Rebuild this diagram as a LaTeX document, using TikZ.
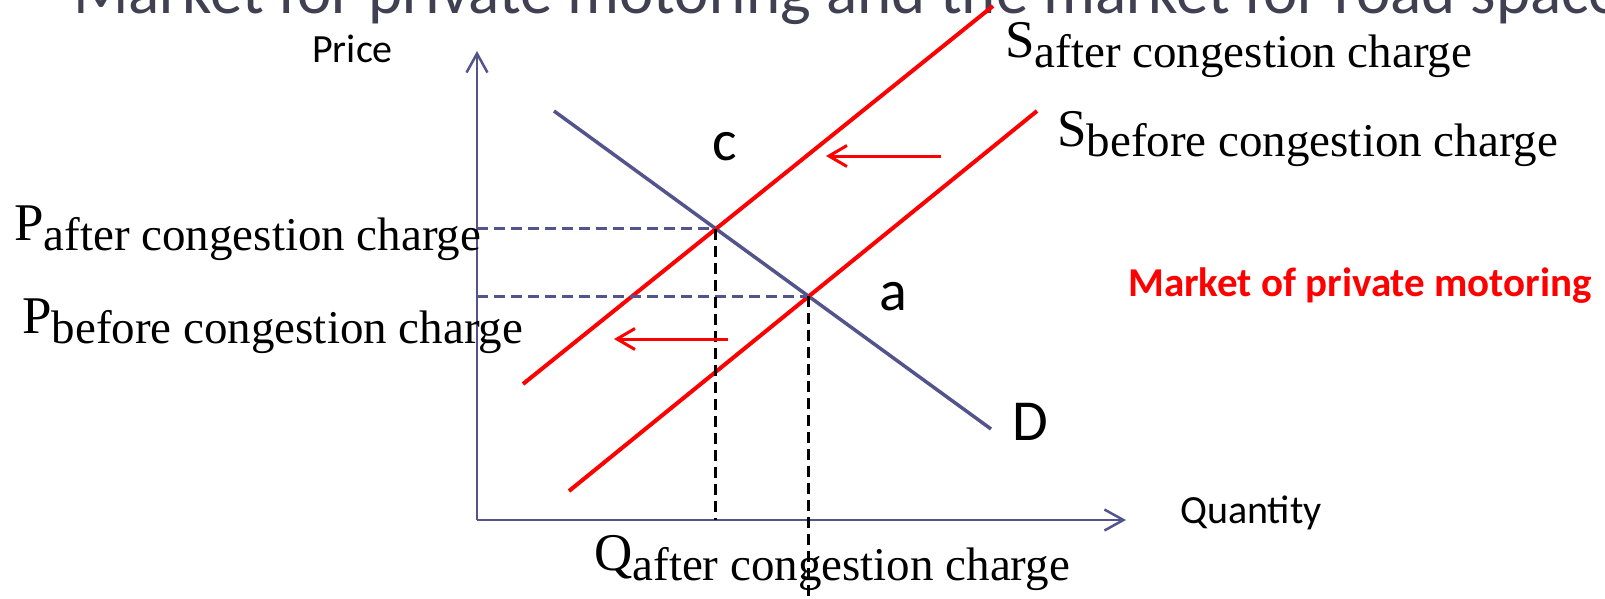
\documentclass[tikz,border=0pt]{standalone}
\usepackage{fontspec}
\setmainfont{Liberation Serif}
\newfontfamily\calib{Carlito}
\usetikzlibrary{arrows.meta,intersections}
\definecolor{slate}{RGB}{84,84,140}
\definecolor{titlegray}{RGB}{64,64,82}
\definecolor{pred}{RGB}{255,0,0}
\newcommand\mysub[2]{{\fontsize{53}{60}\selectfont #1}\lower10pt\hbox{#2}}
\begin{document}
\begin{tikzpicture}[x=1pt,y=-1pt,
  axisline/.style={draw=slate,line width=2.5pt,-{Straight Barb[length=19pt,width=21pt]}},
  demandline/.style={draw=slate,line width=3.5pt},
  supplyline/.style={draw=pred,line width=4pt},
  shiftarrow/.style={draw=pred,line width=3pt,-{Straight Barb[length=18pt,width=21pt]}},
  pdash/.style={draw=slate,line width=3pt,dash pattern=on 11pt off 6pt},
  qdash/.style={draw=black,line width=3pt,dash pattern=on 11pt off 6pt},
  sublabel/.style={anchor=base west,inner sep=0pt,font=\fontsize{47}{56}\selectfont},
  sanslabel/.style={anchor=base west,inner sep=0pt,font=\calib\fontsize{40}{48}\selectfont},
  ptlabel/.style={anchor=base west,inner sep=0pt,font=\calib\fontsize{58}{68}\selectfont}]
\useasboundingbox (0,0) rectangle (1605,598);
\clip (0,0) rectangle (1605,598);
% title (cut off at top and right)
\node[anchor=base west,inner sep=0pt,text=titlegray,font=\calib\fontsize{65}{78}\selectfont] (title) at (73,13) {Market for private motoring and the market for road space};
% axes
\coordinate (O) at (477,520);
\coordinate (ytip) at (477,51);
\coordinate (xtip) at (1126,520);
\coordinate (bottom) at (0,598);
\draw[axisline] (O) -- (ytip);
\draw[axisline] (O) -- (xtip);
% curves
\coordinate (dA) at (554,111);
\coordinate (dB) at (991,429);
\coordinate (saA) at (523,384);
\coordinate (saB) at (993,6);
\coordinate (sbA) at (569,491);
\coordinate (sbB) at (1037,111);
\draw[demandline,name path=Dl] (dA) -- (dB);
\draw[supplyline,name path=Sa] (saA) -- (saB);
\draw[supplyline,name path=Sb] (sbA) -- (sbB);
\path[name intersections={of=Dl and Sa,by=c}];
\path[name intersections={of=Dl and Sb,by=a}];
% dashed guides
\draw[pdash] (c -| O) -- (c);
\draw[pdash] (a -| O) -- (a);
\draw[qdash] (c) -- (c |- O);
\draw[qdash] (a) -- (a |- bottom);
% shift arrows
\coordinate (ar1s) at (941,156);
\coordinate (ar1e) at (826,156);
\coordinate (ar2s) at (728,339);
\coordinate (ar2e) at (614,339);
\draw[shiftarrow] (ar1s) -- (ar1e);
\draw[shiftarrow] (ar2s) -- (ar2e);
% labels
\node[sanslabel] (price) at (312,62) {Price};
\node[sanslabel] (qty) at (1180,523) {Quantity};
\node[sanslabel,text=pred,font=\calib\bfseries\fontsize{41}{49}\selectfont] (mkt) at (1128,296) {Market of private motoring};
\node[ptlabel] (lc) at (712,160) {c};
\node[ptlabel] (la) at (879,310) {a};
\node[ptlabel] (lD) at (1012,440) {D};
\node[sublabel] (Safter) at (1005,57) {\mysub{S}{after congestion charge}};
\node[sublabel] (Sbefore) at (1057,146) {\mysub{S}{before congestion charge}};
\node[sublabel] (Pafter) at (14,240) {\mysub{P}{after congestion charge}};
\node[sublabel] (Pbefore) at (22,333) {\mysub{P}{before congestion charge}};
\node[sublabel] (Qafter) at (594,570) {\mysub{Q}{after congestion charge}};
\end{tikzpicture}
\end{document}
